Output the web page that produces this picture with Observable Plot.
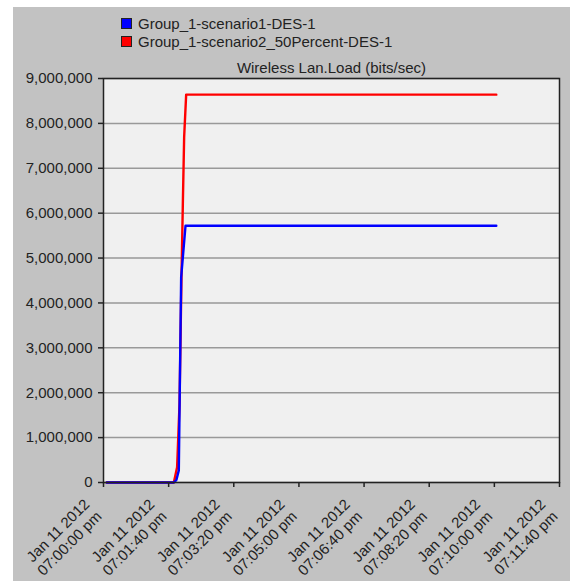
<!DOCTYPE html>
<html>
<head>
<meta charset="utf-8">
<script src="https://cdn.jsdelivr.net/npm/d3@7"></script>
<script src="https://cdn.jsdelivr.net/npm/@observablehq/plot@0.6"></script>
<style>
  html, body { margin: 0; padding: 0; background: #fff; }
  #page { position: relative; width: 570px; height: 581px; overflow: hidden; font-family: "Liberation Sans", Arial, sans-serif; }
  #panel { position: absolute; left: 13px; top: 7px; right: 0; bottom: 0; background: #c2c2c2; }
  #legend { position: relative; height: 50px; }
  .row { position: absolute; left: 121px; height: 18px; display: flex; align-items: center; font-size: 15px; color: #222; white-space: nowrap; }
  .sw { width: 9px; height: 9px; border: 1px solid #222; margin-right: 6px; }
  #chart { position: relative; }
  #chart svg { display: block; }
</style>
</head>
<body>
<div id="page">
  <div id="panel"></div>
  <div id="legend"></div>
  <div id="chart"></div>
</div>
<script>
// Series names and colours
const seriesNames = ["Group_1-scenario1-DES-1", "Group_1-scenario2_50Percent-DES-1"];
const seriesColors = ["#0000ff", "#ff0000"];
const chartTitle = "Wireless Lan.Load (bits/sec)";

// Time in seconds after 07:00:00 pm, load in bits/sec
const timeScenario1 = [5, 108, 112, 115.6, 119.2, 125.9, 603];
const loadScenario1 = [0, 0, 60000, 270000, 4570000, 5720000, 5720000];
const timeScenario2 = [5, 108, 113, 116.7, 119.7, 121.8, 123.8, 126.9, 603];
const loadScenario2 = [0, 0, 340000, 1750000, 4570000, 6210000, 7690000, 8640000, 8640000];

// Axis ticks
const yTicks = [0, 1000000, 2000000, 3000000, 4000000, 5000000, 6000000, 7000000, 8000000, 9000000];
const xTicks = [0, 100, 200, 300, 400, 500, 600, 700];
const xTickLabels = [
  "Jan 11 2012\n07:00:00 pm",
  "Jan 11 2012\n07:01:40 pm",
  "Jan 11 2012\n07:03:20 pm",
  "Jan 11 2012\n07:05:00 pm",
  "Jan 11 2012\n07:06:40 pm",
  "Jan 11 2012\n07:08:20 pm",
  "Jan 11 2012\n07:10:00 pm",
  "Jan 11 2012\n07:11:40 pm"
];

// Long table; scenario 2 first so scenario 1 is drawn over it
const rows = [
  ...timeScenario2.map((t, i) => ({series: seriesNames[1], t, load: loadScenario2[i]})),
  ...timeScenario1.map((t, i) => ({series: seriesNames[0], t, load: loadScenario1[i]}))
];

// Legend
const legend = document.getElementById("legend");
seriesNames.forEach((name, i) => {
  const row = document.createElement("div");
  row.className = "row";
  row.style.top = (14 + i * 18) + "px";
  const sw = document.createElement("span");
  sw.className = "sw";
  sw.style.background = seriesColors[i];
  row.appendChild(sw);
  row.appendChild(document.createTextNode(name));
  legend.appendChild(row);
});

const plot = Plot.plot({
  width: 570,
  height: 531,
  marginTop: 28,
  marginBottom: 99,
  marginLeft: 103,
  marginRight: 11,
  style: {background: "transparent", fontFamily: "'Liberation Sans', Arial, sans-serif", fontSize: "15px", color: "#222", overflow: "visible"},
  x: {domain: [0, 700], label: null},
  y: {domain: [0, 9000000], label: null},
  color: {domain: seriesNames, range: seriesColors},
  marks: [
    Plot.frame({fill: "#f0f0f0", stroke: "none"}),
    Plot.gridY(yTicks, {stroke: "#999", strokeOpacity: 1, strokeWidth: 1.5}),
    Plot.line(rows, {x: "t", y: "load", z: "series", stroke: "series", strokeWidth: 2.4}),
    Plot.frame({stroke: "#222", strokeWidth: 1.5}),
    Plot.axisY(yTicks, {tickSize: 5, tickPadding: 6, tickFormat: d3.format(","), stroke: "#222", strokeWidth: 1.5, label: null}),
    Plot.axisX(xTicks, {tickSize: 5, tickFormat: () => "", stroke: "#222", strokeWidth: 1.5, label: null}),
    // Rotated two-line date labels under each tick
    Plot.text(xTicks, {
      x: d => d,
      text: d => xTickLabels[xTicks.indexOf(d)],
      frameAnchor: "bottom",
      rotate: -45,
      textAnchor: "end",
      lineAnchor: "bottom",
      lineHeight: 1.15,
      dx: -1,
      dy: 35,
      fill: "#222"
    }),
    Plot.text([chartTitle], {frameAnchor: "top", dy: -6, lineAnchor: "bottom", fill: "#222"})
  ]
});
document.getElementById("chart").appendChild(plot);
</script>
</body>
</html>
